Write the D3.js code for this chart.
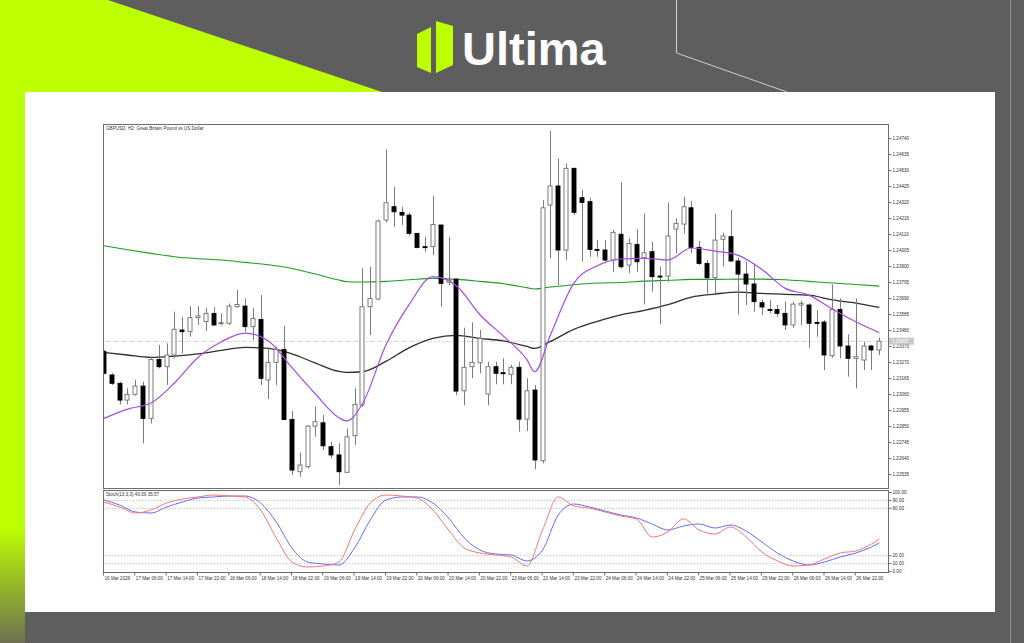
<!DOCTYPE html>
<html><head><meta charset="utf-8">
<script src="https://cdn.jsdelivr.net/npm/d3@7"></script>
<style>
html,body{margin:0;padding:0;background:#5e5e5e;}
svg{display:block;}
text{font-family:"Liberation Sans",Arial,sans-serif;}
</style></head>
<body><svg id="c" width="1024" height="643"></svg>
<script>
// ---------- DATA ----------
const chartTitle = "GBPUSD, H2:  Great Britain Pound vs US Dollar";
const stochTitle = "Stoch(13,3,3) 40.09 35.57";
const xLabels = ["16 Mar 2026","17 Mar 06:00","17 Mar 14:00","17 Mar 22:00","18 Mar 06:00","18 Mar 14:00","18 Mar 22:00","19 Mar 06:00","19 Mar 14:00","19 Mar 22:00","20 Mar 06:00","20 Mar 14:00","20 Mar 22:00","23 Mar 06:00","23 Mar 14:00","23 Mar 22:00","24 Mar 06:00","24 Mar 14:00","24 Mar 22:00","25 Mar 06:00","25 Mar 14:00","25 Mar 22:00","26 Mar 06:00","26 Mar 14:00","26 Mar 22:00"];
const xLabelIdx = [0,4,8,12,16,20,24,28,32,36,40,44,48,52,56,60,64,68,72,76,80,84,88,92,96];
const priceTicks = ["1.22535","1.22640","1.22745","1.22850","1.22955","1.23060","1.23165","1.23270","1.23375","1.23480","1.23585","1.23690","1.23795","1.23900","1.24005","1.24110","1.24215","1.24320","1.24425","1.24530","1.24635","1.24740"];
const stochTicks = [100,90,80,20,10,0];
const stochLevels = [90,80,20,10];

const openP = [1.23338,1.23185,1.23130,1.23020,1.23058,1.23112,1.22900,1.23287,1.23239,1.23316,1.23480,1.23469,1.23561,1.23535,1.23589,1.23524,1.23524,1.23633,1.23637,1.23502,1.23549,1.23152,1.23268,1.23353,1.22893,1.22550,1.22583,1.22849,1.22871,1.22714,1.22660,1.22546,1.22786,1.22988,1.23633,1.23683,1.24201,1.24289,1.24252,1.24234,1.24114,1.24027,1.24027,1.24169,1.23793,1.23814,1.23081,1.23239,1.23265,1.23060,1.23239,1.23200,1.23189,1.23235,1.22895,1.23086,1.22622,1.24300,1.24425,1.24005,1.24541,1.24348,1.24322,1.24009,1.24005,1.23939,1.24108,1.23906,1.24042,1.23954,1.23994,1.23834,1.23834,1.24142,1.24175,1.24282,1.24022,1.23917,1.23823,1.24075,1.24092,1.23933,1.23847,1.23782,1.23659,1.23615,1.23615,1.23589,1.23513,1.23644,1.23644,1.23530,1.23532,1.23311,1.23615,1.23375,1.23294,1.23283,1.23375,1.23349];
const highP = [1.23349,1.23196,1.23141,1.23097,1.23152,1.23141,1.23305,1.23382,1.23393,1.23600,1.23567,1.23637,1.23637,1.23626,1.23630,1.23589,1.23654,1.23744,1.23687,1.23622,1.23709,1.23364,1.23371,1.23506,1.22948,1.22676,1.22856,1.22977,1.22922,1.22747,1.22736,1.22834,1.23097,1.23884,1.23895,1.24206,1.24665,1.24420,1.24289,1.24252,1.24114,1.24092,1.24361,1.24169,1.24092,1.23819,1.23495,1.23530,1.23480,1.23272,1.23272,1.23294,1.23250,1.23272,1.23163,1.23119,1.24333,1.24786,1.24606,1.24573,1.24545,1.24398,1.24348,1.24070,1.24070,1.24136,1.24449,1.24081,1.24142,1.24245,1.24059,1.23895,1.24317,1.24213,1.24355,1.24326,1.24064,1.23939,1.24241,1.24118,1.24267,1.23954,1.23928,1.23906,1.23677,1.23677,1.23644,1.23666,1.23666,1.23672,1.23655,1.23611,1.23545,1.23779,1.23687,1.23451,1.23687,1.23403,1.23382,1.23429];
const lowP = [1.23189,1.23119,1.22992,1.22992,1.23049,1.22736,1.22867,1.23228,1.23119,1.23294,1.23327,1.23436,1.23513,1.23474,1.23509,1.23513,1.23513,1.23626,1.23469,1.23414,1.23119,1.23027,1.23119,1.22889,1.22528,1.22517,1.22572,1.22779,1.22692,1.22638,1.22463,1.22546,1.22725,1.22977,1.23447,1.23676,1.24186,1.24158,1.24169,1.24099,1.24016,1.23994,1.23972,1.23633,1.23775,1.23053,1.22988,1.23163,1.23196,1.22988,1.23124,1.23124,1.23124,1.22813,1.22817,1.22568,1.22605,1.23950,1.23775,1.23939,1.24234,1.23928,1.23961,1.23961,1.23928,1.23863,1.23884,1.23852,1.23863,1.23648,1.23731,1.23517,1.23797,1.23983,1.24114,1.23987,1.23906,1.23720,1.23720,1.23895,1.23928,1.23582,1.23644,1.23600,1.23578,1.23589,1.23567,1.23480,1.23495,1.23513,1.23364,1.23436,1.23217,1.23298,1.23294,1.23174,1.23097,1.23217,1.23217,1.23316];
const closeP = [1.23196,1.23130,1.23020,1.23058,1.23112,1.22900,1.23287,1.23239,1.23316,1.23485,1.23469,1.23561,1.23573,1.23589,1.23513,1.23528,1.23637,1.23648,1.23502,1.23556,1.23163,1.23268,1.23353,1.22893,1.22561,1.22594,1.22849,1.22878,1.22720,1.22660,1.22550,1.22779,1.22992,1.23633,1.23687,1.24195,1.24315,1.24256,1.24234,1.24114,1.24022,1.24022,1.24173,1.23786,1.23808,1.23079,1.23235,1.23268,1.23425,1.23239,1.23196,1.23193,1.23235,1.22895,1.23081,1.22627,1.24282,1.24425,1.24005,1.24541,1.24252,1.24317,1.24009,1.24005,1.23939,1.24121,1.23895,1.24048,1.23928,1.23987,1.23830,1.23828,1.24097,1.24180,1.24289,1.24022,1.23917,1.23823,1.24070,1.24097,1.23933,1.23847,1.23782,1.23666,1.23631,1.23609,1.23589,1.23513,1.23650,1.23655,1.23524,1.23526,1.23316,1.23615,1.23375,1.23294,1.23305,1.23375,1.23349,1.23407];

const maIdx = [0,3,6,9,12,15,18,21,24,27,30,31,33,36,39,42,45,48,51,54,55,57,60,63,66,69,72,75,78,81,84,87,90,93,96,99];
const maGreen = [1.24033,1.24007,1.23983,1.23961,1.23948,1.23939,1.23924,1.23908,1.23884,1.23847,1.23808,1.23797,1.23795,1.23799,1.23810,1.23819,1.23812,1.23799,1.23784,1.23758,1.23749,1.23762,1.23777,1.23788,1.23792,1.23801,1.23806,1.23812,1.23812,1.23814,1.23814,1.23810,1.23799,1.23788,1.23779,1.23768];
const maBlack = [1.23333,1.23316,1.23300,1.23309,1.23324,1.23346,1.23366,1.23359,1.23324,1.23263,1.23208,1.23202,1.23206,1.23274,1.23364,1.23425,1.23445,1.23425,1.23408,1.23372,1.23359,1.23405,1.23484,1.23537,1.23580,1.23609,1.23646,1.23696,1.23716,1.23729,1.23720,1.23714,1.23709,1.23677,1.23657,1.23628];
const maPurple = [1.22900,1.22961,1.23001,1.23132,1.23300,1.23403,1.23460,1.23408,1.23233,1.23060,1.22904,1.22883,1.22996,1.23381,1.23650,1.23830,1.23771,1.23580,1.23440,1.23285,1.23206,1.23447,1.23788,1.23902,1.23946,1.23950,1.23939,1.24018,1.23998,1.23970,1.23878,1.23753,1.23709,1.23618,1.23534,1.23462];

const stochIdx = [0,2,4,6,8,10,12,14,16,18,20,22,24,26,28,30,32,34,36,38,40,42,44,46,48,50,52,54,56,58,60,62,64,66,68,70,72,74,76,78,80,82,84,86,88,90,92,94,96,98,99];
const stochK = [87.3,81,73.4,77.2,86,91.1,93.7,96.2,94.9,93.7,77.2,41.8,11.4,5.1,6.3,11.4,51.9,86,96.2,94.9,92.4,77.2,51.9,29.1,22.8,20.3,17.7,6.3,51.9,93.7,82.3,79.7,74.7,69.6,65.8,43,49.4,66,51.9,46.8,55.7,43,24.1,12.7,6.3,7.6,15.2,22.8,25.3,34.2,40.09];
const stochD = [89.9,83.5,74.7,73.4,81,87.3,92.4,93.7,94.9,94.9,86,62,29.1,11.4,8.9,7.6,29.1,64.6,89.9,93.7,93.7,86,67.1,41.8,26.6,21.5,20.3,12.7,26.6,70.9,84.8,81,75.9,70.9,67.1,59.5,51.9,57,59.5,54.4,58.2,50.6,36.7,22.8,12.7,7.6,11.4,17.7,22.8,30.4,35.57];

// ---------- DRAW ----------
const svg = d3.select("#c");
const defs = svg.append("defs");
const g1 = defs.append("linearGradient").attr("id","limeFade").attr("x1",0).attr("y1",0).attr("x2",0).attr("y2",1);
g1.append("stop").attr("offset","0").attr("stop-color","#bdff00");
g1.append("stop").attr("offset","0.82").attr("stop-color","#bdff00");
g1.append("stop").attr("offset","1").attr("stop-color","#6d7050");

svg.append("rect").attr("width",1024).attr("height",643).attr("fill","#5e5e5e");
svg.append("polygon").attr("points","0,0 108,0 382,92 25,92 25,643 0,643").attr("fill","url(#limeFade)");
svg.append("polyline").attr("points","676.5,0 676.5,53 787,92").attr("fill","none").attr("stroke","#cfcfcf").attr("stroke-width",1);
svg.append("line").attr("x1",1010.5).attr("x2",1010.5).attr("y1",0).attr("y2",643).attr("stroke","#8c8c8c").attr("stroke-width",1);

// logo
svg.append("polygon").attr("points","417,34 431,27 431,73 417,67").attr("fill","#bdff00");
svg.append("polygon").attr("points","436,21 453,26 453,65 436,73").attr("fill","#bdff00");
svg.append("text").attr("x",462).attr("y",65).attr("font-family","Inter, 'Open Sans', sans-serif").attr("font-weight",600)
  .attr("font-size",47).attr("fill","#ffffff").attr("letter-spacing","0").text("Ultima");

// white card
svg.append("rect").attr("x",25).attr("y",92).attr("width",970).attr("height",520).attr("fill","#ffffff");

// chart geometry
const L = 103, R = 888, pTop = 124, pBot = 488, sTop = 490, sBot = 572;
const x = d3.scaleLinear().domain([0,99]).range([104,879.3]);
const y = d3.scaleLinear().domain([1.22535,1.24740]).range([474,138]);
const ys = d3.scaleLinear().domain([0,100]).range([571,492]);

defs.append("clipPath").attr("id","pclip").append("rect").attr("x",L).attr("y",pTop).attr("width",R-L).attr("height",pBot-pTop);
defs.append("clipPath").attr("id","sclip").append("rect").attr("x",L).attr("y",sTop).attr("width",R-L).attr("height",sBot-sTop);

const fs = 4.6;
// current price line
const lastC = closeP[closeP.length-1];
svg.append("line").attr("x1",L).attr("x2",R).attr("y1",Math.round(y(lastC))+0.5).attr("y2",Math.round(y(lastC))+0.5)
  .attr("stroke","#c8c8c8").attr("stroke-width",0.8).attr("stroke-dasharray","1,1");

// stoch level lines
const sg = svg.append("g").attr("clip-path","url(#sclip)");
sg.selectAll("line.lv").data(stochLevels).join("line").attr("class","lv")
  .attr("x1",L).attr("x2",R).attr("y1",d=>Math.round(ys(d))+0.5).attr("y2",d=>Math.round(ys(d))+0.5)
  .attr("stroke","#bdbdbd").attr("stroke-width",0.8).attr("stroke-dasharray","1.5,1.5");

// MAs
const pg = svg.append("g").attr("clip-path","url(#pclip)");
const maLine = arr => d3.line().x((d,i)=>x(maIdx[i])).y(d=>y(d)).curve(d3.curveMonotoneX)(arr);
pg.append("path").attr("d",maLine(maGreen)).attr("fill","none").attr("stroke","#1f9a1f").attr("stroke-width",1.1);
pg.append("path").attr("d",maLine(maBlack)).attr("fill","none").attr("stroke","#2e2e2e").attr("stroke-width",1.3);

// candles
const bw = 5;
const candles = pg.selectAll("g.cd").data(openP.map((o,i)=>({i,o,h:highP[i],l:lowP[i],c:closeP[i]}))).join("g").attr("class","cd");
candles.append("line").attr("x1",d=>Math.round(x(d.i))+0.5).attr("x2",d=>Math.round(x(d.i))+0.5)
  .attr("y1",d=>y(d.h)).attr("y2",d=>y(d.l)).attr("stroke","#7a7a7a").attr("stroke-width",1);
candles.append("rect")
  .attr("x",d=>Math.round(x(d.i))-2)
  .attr("y",d=>y(Math.max(d.o,d.c)))
  .attr("width",bw-1)
  .attr("height",d=>Math.max(1,Math.abs(y(d.o)-y(d.c))))
  .attr("fill",d=>d.c<d.o?"#000000":"#ffffff")
  .attr("stroke",d=>d.c<d.o?"#000000":"#6e6e6e").attr("stroke-width",0.9);

pg.append("path").attr("d",maLine(maPurple)).attr("fill","none").attr("stroke","#a84be6").attr("stroke-width",1.2);

// stoch lines
const stLine = arr => d3.line().x((d,i)=>x(stochIdx[i])).y(d=>ys(d)).curve(d3.curveMonotoneX)(arr);
sg.append("path").attr("d",stLine(stochD)).attr("fill","none").attr("stroke","#6a6aff").attr("stroke-width",1);
sg.append("path").attr("d",stLine(stochK)).attr("fill","none").attr("stroke","#f07878").attr("stroke-width",1);

// frames
svg.append("rect").attr("x",L+0.5).attr("y",pTop+0.5).attr("width",R-L).attr("height",pBot-pTop).attr("fill","none").attr("stroke","#6d6d6d").attr("stroke-width",1);
svg.append("rect").attr("x",L+0.5).attr("y",sTop+0.5).attr("width",R-L).attr("height",sBot-sTop).attr("fill","none").attr("stroke","#6d6d6d").attr("stroke-width",1);

// price axis
const pAxis = d3.axisRight(y).tickValues(priceTicks.map(Number)).tickFormat(d=>d3.format(".5f")(d)).tickSize(3).tickPadding(1);
const pa = svg.append("g").attr("transform",`translate(${R+0.5},0)`).call(pAxis);
pa.select(".domain").remove();
pa.selectAll("line").attr("stroke","#6d6d6d");
pa.selectAll("text").attr("font-size",fs).attr("fill","#333").attr("font-family","Liberation Sans, Arial, sans-serif");

// current price label
const cy = y(lastC);
svg.append("rect").attr("x",R+1).attr("y",cy-3.5).attr("width",25).attr("height",7).attr("fill","#c9c9c9");
svg.append("text").attr("x",R+4).attr("y",cy).attr("dy","0.32em").attr("font-size",fs).attr("fill","#ffffff").text(d3.format(".5f")(lastC));

// stoch axis
const sAxis = d3.axisRight(ys).tickValues(stochTicks).tickFormat(d3.format(".2f")).tickSize(3).tickPadding(1);
const sa = svg.append("g").attr("transform",`translate(${R+0.5},0)`).call(sAxis);
sa.select(".domain").remove();
sa.selectAll("line").attr("stroke","#6d6d6d");
sa.selectAll("text").attr("font-size",fs).attr("fill","#333").attr("font-family","Liberation Sans, Arial, sans-serif");

// time axis
const tAxis = d3.axisBottom(x).tickValues(xLabelIdx).tickFormat((d,i)=>xLabels[i]).tickSize(3).tickPadding(1);
const ta = svg.append("g").attr("transform",`translate(-1,${sBot+0.5})`).call(tAxis);
ta.select(".domain").remove();
ta.selectAll("line").attr("stroke","#6d6d6d");
ta.selectAll("text").attr("font-size",fs).attr("fill","#333").attr("text-anchor","start").attr("dx","1").attr("font-family","Liberation Sans, Arial, sans-serif");

// titles
svg.append("text").attr("x",106).attr("y",130).attr("font-size",fs).attr("fill","#333").text(chartTitle);
svg.append("text").attr("x",106).attr("y",496).attr("font-size",fs).attr("fill","#333").text(stochTitle);
</script></body></html>
